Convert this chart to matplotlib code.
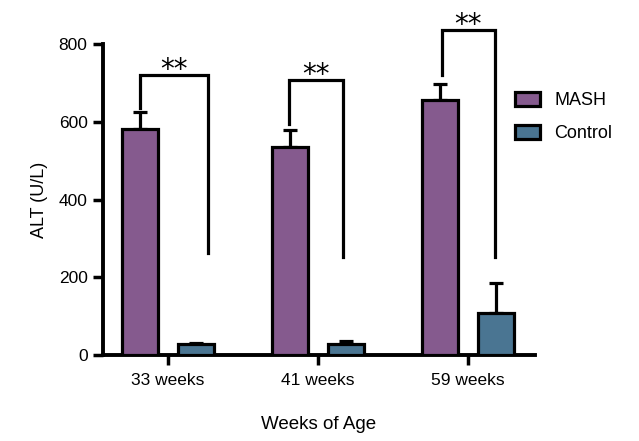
import numpy as np
import matplotlib.pyplot as plt

plt.rcParams['font.family'] = ['Liberation Sans', 'DejaVu Sans']

# data
groups = ['33 weeks', '41 weeks', '59 weeks']
mash_mean = [581, 534, 655]
mash_err = [44, 46, 43]
ctrl_mean = [29, 28, 107]
ctrl_err = [2, 7, 79]

# significance brackets: (left leg bottom, top, right leg bottom)
brk_left = [636, 595, 720]
brk_top = [720, 707, 837]
brk_right = [263, 252, 252]
brk_label = ['**', '**', '**']

mash_col = '#855A8E'
ctrl_col = '#4A7592'

x = np.arange(len(groups))
w = 0.24
off = 0.187

fig = plt.figure(figsize=(6.39, 4.41), dpi=100)
ax = fig.add_axes([0.161, 0.195, 0.676, 0.705])

ax.bar(x - off, mash_mean, w, color=mash_col, edgecolor='black', linewidth=2.3,
       label='MASH', zorder=3)
ax.bar(x + off, ctrl_mean, w, color=ctrl_col, edgecolor='black', linewidth=2.3,
       label='Control', zorder=3)

# upper error bars only
for xs, m, e in [(x - off, mash_mean, mash_err), (x + off, ctrl_mean, ctrl_err)]:
    ax.errorbar(xs, m, yerr=[np.zeros(len(m)), e], fmt='none', ecolor='black',
                elinewidth=2.3, capsize=5, capthick=2.3, zorder=2)

# brackets (leg positions relative to group centre)
leg_l = [-0.187, -0.193, -0.173]
leg_r = [0.267, 0.167, 0.18]
for i in range(len(groups)):
    xl = x[i] + leg_l[i]
    xr = x[i] + leg_r[i]
    ax.plot([xl, xl, xr, xr], [brk_left[i], brk_top[i], brk_top[i], brk_right[i]],
            color='black', lw=2.3, clip_on=False, solid_joinstyle='miter', zorder=4)
    ax.text((xl + xr) / 2, brk_top[i] - 23, brk_label[i], ha='center', va='bottom',
            fontsize=20, family='DejaVu Sans', clip_on=False)

ax.set_xlim(-0.433, 2.447)
ax.set_ylim(0, 800)
ax.set_yticks([0, 200, 400, 600, 800])
ax.set_xticks(x)
ax.set_xticklabels(groups)
ax.tick_params(axis='both', width=2.5, length=7, pad=4)
ax.tick_params(axis='y', labelsize=12.5)
ax.tick_params(axis='x', labelsize=12.5, pad=6)

for s in ['top', 'right']:
    ax.spines[s].set_visible(False)
for s in ['left', 'bottom']:
    ax.spines[s].set_linewidth(2.8)

ax.set_ylabel('ALT (U/L)', fontsize=13, labelpad=8)
ax.set_xlabel('Weeks of Age', fontsize=13.5, labelpad=20)

leg = ax.legend(loc='upper left', bbox_to_anchor=(0.955, 0.845), frameon=False,
                fontsize=13, handlelength=1.35, handleheight=0.8, labelspacing=0.85,
                borderpad=0, borderaxespad=0, handletextpad=0.8)
for h in leg.legend_handles:
    h.set_linewidth(2.3)

fig.savefig('out.png', dpi=100)
